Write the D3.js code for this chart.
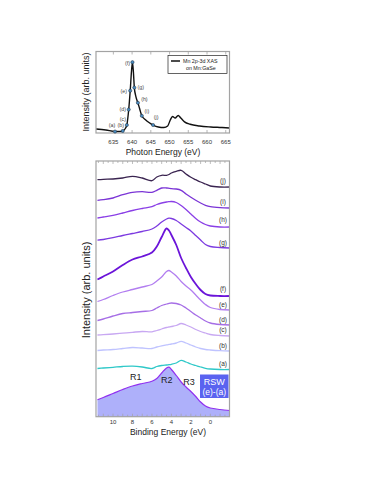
<!DOCTYPE html>
<meta charset="utf-8">
<script src="https://d3js.org/d3.v7.min.js"></script>
<style>
  body { margin: 0; background: #fff; }
  text { font-family: "Liberation Sans", Arial, sans-serif; }
</style>
<body>
<div id="my_dataviz"></div>
<script>

// ---- top panel: Mn 2p-3d XAS ----
var xasEnergy = [630.4, 633, 635.45, 636.5, 637.5, 638.2, 638.6, 639.1, 639.5, 639.85, 640.1, 640.35, 640.6, 641,
  641.55, 642, 642.6, 643.5, 644.5, 645.6, 647, 648.5, 649.5, 650.2, 650.8, 651.5, 652.3, 653, 654, 655.5, 658, 661, 664, 666];
var xasIntensity = [0.049, 0.037, 0.018, 0.018, 0.025, 0.055, 0.098, 0.288, 0.519, 0.76, 0.869, 0.75, 0.557, 0.45,
  0.371, 0.30, 0.211, 0.166, 0.129, 0.098, 0.074, 0.067, 0.086, 0.160, 0.202, 0.184, 0.215, 0.184, 0.137, 0.107, 0.086, 0.074, 0.067, 0.061];

var markerNames = ["a", "b", "c", "d", "e", "f", "g", "h", "i", "j"];
var markerEnergy = [635.45, 637.5, 638.6, 639.1, 639.5, 640.1, 640.6, 641.55, 642.6, 645.6];
var markerIntensity = [0.018, 0.025, 0.098, 0.288, 0.519, 0.869, 0.557, 0.371, 0.211, 0.098];
var photonTicks = [635, 640, 645, 650, 655, 660, 665];

// ---- bottom panel: resonant valence band spectra ----
var bindingEnergy = [11.6, 11, 10, 9, 8, 7, 6, 5.5, 5, 4.5, 4.25, 4, 3.5, 3, 2.5, 2, 1.5, 1, 0.5, 0, -1, -2];
var spectrumNames = ["j", "i", "h", "g", "f", "e", "d", "c", "b", "a"];
var spectrumColors = ["#3a2450", "#7b35d6", "#8a3fe6", "#7c3ae0", "#6b14d9", "#b27ef0", "#a66ee6", "#c8a8f2", "#bfc3ff", "#2ec8c8"];
var spectrumJ = [23.70, 23.74, 23.77, 23.87, 24.04, 23.87, 23.60, 23.97, 24.14, 24.14, 24.22, 24.37, 24.54, 24.64, 24.27, 23.94, 23.70, 23.47, 23.27, 23.07, 22.97, 22.97];
var spectrumI = [21.64, 21.70, 21.87, 22.20, 22.44, 22.50, 22.44, 22.64, 22.87, 22.87, 22.84, 22.80, 22.77, 22.64, 22.27, 21.94, 21.64, 21.37, 21.14, 21.00, 20.90, 20.87];
var spectrumH = [19.87, 19.97, 20.14, 20.37, 20.62, 20.82, 21.00, 21.22, 21.37, 21.47, 21.50, 21.52, 21.42, 21.12, 20.72, 20.27, 19.82, 19.47, 19.22, 19.07, 18.97, 18.97];
var spectrumG = [17.65, 17.72, 17.90, 18.12, 18.32, 18.52, 18.77, 19.07, 19.47, 19.77, 19.85, 19.82, 19.62, 19.27, 18.92, 18.57, 18.12, 17.67, 17.22, 17.02, 16.92, 16.87];
var spectrumF = [13.72, 14.02, 14.52, 15.17, 15.72, 16.02, 16.42, 17.02, 17.97, 18.82, 18.62, 18.17, 17.17, 15.87, 14.87, 13.97, 13.27, 12.67, 12.27, 12.12, 12.07, 12.07];
var spectrumE = [11.52, 11.72, 12.12, 12.47, 12.72, 12.97, 13.22, 13.57, 13.97, 14.52, 14.62, 14.47, 14.07, 13.52, 13.07, 12.67, 12.17, 11.67, 11.22, 10.92, 10.72, 10.67];
var spectrumD = [9.62, 9.77, 10.07, 10.32, 10.42, 10.52, 10.62, 10.87, 11.12, 11.27, 11.34, 11.37, 11.32, 11.17, 10.87, 10.52, 10.17, 9.87, 9.57, 9.37, 9.22, 9.17];
var spectrumC = [8.17, 8.20, 8.27, 8.35, 8.44, 8.52, 8.49, 8.62, 8.77, 8.92, 8.97, 9.02, 9.12, 9.32, 9.17, 8.97, 8.72, 8.52, 8.37, 8.22, 8.12, 8.07];
var spectrumB = [6.62, 6.67, 6.72, 6.82, 6.92, 6.87, 6.82, 6.97, 7.09, 7.19, 7.23, 7.27, 7.37, 7.54, 7.37, 7.17, 6.97, 6.82, 6.72, 6.67, 6.60, 6.57];
var spectrumA = [4.82, 4.87, 4.94, 5.02, 5.05, 4.97, 4.82, 5.02, 5.12, 5.17, 5.20, 5.24, 5.37, 5.64, 5.47, 5.27, 5.12, 4.97, 4.84, 4.77, 4.72, 4.72];
var spectrumRSW = [1.70, 1.92, 2.32, 2.72, 3.07, 3.32, 3.54, 3.82, 4.37, 4.87, 4.95, 4.72, 4.12, 3.47, 2.97, 2.52, 2.02, 1.47, 1.07, 0.87, 0.72, 0.62];
var bindingTicks = [10, 8, 6, 4, 2, 0];
var regionLabels = ["R1", "R2", "R3"];
var regionBE = [7.67, 4.48, 2.19];
var regionY = [3.94, 3.67, 3.50];

var allSpectra = [spectrumJ, spectrumI, spectrumH, spectrumG, spectrumF, spectrumE, spectrumD, spectrumC, spectrumB, spectrumA];

var svg = d3.select("#my_dataviz").append("svg")
  .attr("width", 374)
  .attr("height", 484);

var frameColor = "#a3a3a3";

// ===== top panel =====
var xTop = d3.scaleLinear().domain([630.37, 666.0]).range([96, 229.5]);
var yTop = d3.scaleLinear().domain([0, 1]).range([133, 51.5]);

var xasG = svg.append("g");

xasG.append("path")
  .datum(d3.zip(xasEnergy, xasIntensity))
  .attr("fill", "none")
  .attr("stroke", "#111")
  .attr("stroke-width", 1.4)
  .attr("d", d3.line()
    .x(function (d) { return xTop(d[0]); })
    .y(function (d) { return yTop(d[1]); })
    .curve(d3.curveMonotoneX));

xasG.append("rect")
  .attr("x", 96).attr("y", 51.5)
  .attr("width", 133.5).attr("height", 81.5)
  .attr("fill", "none").attr("stroke", frameColor).attr("stroke-width", 1.2);

photonTicks.forEach(function (t) {
  xasG.append("line").attr("x1", xTop(t)).attr("x2", xTop(t)).attr("y1", 133).attr("y2", 130)
    .attr("stroke", frameColor).attr("stroke-width", 0.8);
  xasG.append("line").attr("x1", xTop(t)).attr("x2", xTop(t)).attr("y1", 51.5).attr("y2", 54.5)
    .attr("stroke", frameColor).attr("stroke-width", 0.8);
  xasG.append("text").attr("x", xTop(t)).attr("y", 144)
    .attr("text-anchor", "middle").attr("font-size", 6).attr("fill", "#333").text(t);
});

// label offsets around each marker (px)
var markerOffsets = {
  a: [-3, -6], b: [-2, -5.5], c: [-4, -6], d: [-6, 0], e: [-6.5, 0],
  f: [-5, 0.5], g: [6.5, 0], h: [6.5, -3.5], i: [5, -5], j: [3, -7.5]
};

markerNames.forEach(function (m, i) {
  var cx = xTop(markerEnergy[i]), cy = yTop(markerIntensity[i]);
  xasG.append("circle").attr("cx", cx).attr("cy", cy).attr("r", 1.6)
    .attr("fill", "#4b8cc0").attr("stroke", "#1a2a3a").attr("stroke-width", 0.5);
  xasG.append("text")
    .attr("x", cx + markerOffsets[m][0]).attr("y", cy + markerOffsets[m][1])
    .attr("dy", "0.35em").attr("text-anchor", "middle")
    .attr("font-size", 5.3).attr("fill", "#444").text("(" + m + ")");
});

// legend
xasG.append("rect").attr("x", 168).attr("y", 55.5).attr("width", 59).attr("height", 18)
  .attr("fill", "#fff").attr("stroke", "#222").attr("stroke-width", 0.7);
xasG.append("line").attr("x1", 171).attr("x2", 180).attr("y1", 61).attr("y2", 61)
  .attr("stroke", "#111").attr("stroke-width", 1.5);
xasG.append("text").attr("x", 183).attr("y", 61).attr("dy", "0.35em")
  .attr("font-size", 5.3).attr("fill", "#222").text("Mn 2p-3d  XAS");
xasG.append("text").attr("x", 186).attr("y", 67.8).attr("dy", "0.35em")
  .attr("font-size", 5.3).attr("fill", "#222").text("on Mn:GaSe");

xasG.append("text").attr("x", 163).attr("y", 155)
  .attr("text-anchor", "middle").attr("font-size", 8.5).attr("fill", "#222").text("Photon Energy (eV)");
xasG.append("text")
  .attr("transform", "translate(89,92) rotate(-90)")
  .attr("text-anchor", "middle").attr("font-size", 9).attr("fill", "#222").text("Intensity (arb. units)");

// ===== bottom panel =====
var xBot = d3.scaleLinear().domain([11.75, -1.97]).range([96, 229.5]);
var yBot = d3.scaleLinear().domain([0, 25.57]).range([416.7, 161]);

var vbG = svg.append("g");

// RSW filled difference spectrum
vbG.append("path")
  .datum(d3.zip(bindingEnergy, spectrumRSW))
  .attr("fill", "#aeb0fa")
  .attr("d", d3.area()
    .x(function (d) { return xBot(d[0]); })
    .y0(yBot(0))
    .y1(function (d) { return yBot(d[1]); })
    .curve(d3.curveCatmullRom.alpha(0.5)));
vbG.append("path")
  .datum(d3.zip(bindingEnergy, spectrumRSW))
  .attr("fill", "none").attr("stroke", "#9030f0").attr("stroke-width", 1.2)
  .attr("d", d3.line()
    .x(function (d) { return xBot(d[0]); })
    .y(function (d) { return yBot(d[1]); })
    .curve(d3.curveCatmullRom.alpha(0.5)));

var specLine = d3.line()
  .x(function (d) { return xBot(d[0]); })
  .y(function (d) { return yBot(d[1]); })
  .curve(d3.curveCatmullRom.alpha(0.5));

allSpectra.forEach(function (s, i) {
  vbG.append("path")
    .datum(d3.zip(bindingEnergy, s))
    .attr("fill", "none")
    .attr("stroke", spectrumColors[i])
    .attr("stroke-width", spectrumNames[i] === "f" ? 1.8 : 1.3)
    .attr("d", specLine);
});

// curve labels sit just above the right end of each trace
var labelLift = { j: 6.5, i: 6, h: 7.3, g: 5, f: 7.5, e: 5.5, d: 5.7, c: 5.8, b: 4.8, a: 5.8 };
allSpectra.forEach(function (s, i) {
  var n = spectrumNames[i];
  vbG.append("text")
    .attr("x", 223).attr("y", yBot(s[s.length - 1]) - labelLift[n])
    .attr("dy", "0.35em").attr("text-anchor", "middle")
    .attr("font-size", 6.5).attr("fill", "#333").text("(" + n + ")");
});

regionLabels.forEach(function (r, i) {
  vbG.append("text").attr("x", xBot(regionBE[i])).attr("y", yBot(regionY[i]))
    .attr("dy", "0.35em").attr("text-anchor", "middle")
    .attr("font-size", 9).attr("fill", "#222").text(r);
});

// RSW tag
vbG.append("rect")
  .attr("x", xBot(1.06)).attr("y", yBot(4.22))
  .attr("width", xBot(-1.87) - xBot(1.06)).attr("height", yBot(1.87) - yBot(4.22))
  .attr("fill", "#5a63f0");
vbG.append("text").attr("x", (xBot(1.06) + xBot(-1.87)) / 2).attr("y", yBot(3.52))
  .attr("dy", "0.35em").attr("text-anchor", "middle")
  .attr("font-size", 9).attr("fill", "#fff").text("RSW");
vbG.append("text").attr("x", (xBot(1.06) + xBot(-1.87)) / 2).attr("y", yBot(2.47))
  .attr("dy", "0.35em").attr("text-anchor", "middle")
  .attr("font-size", 8.5).attr("fill", "#fff").text("(e)-(a)");

vbG.append("rect")
  .attr("x", 96).attr("y", 161)
  .attr("width", 133.5).attr("height", 255.7)
  .attr("fill", "none").attr("stroke", frameColor).attr("stroke-width", 1.2);

d3.range(-1.5, 11.75, 0.5).forEach(function (t) {
  var len = (t % 1 === 0) ? 3 : 2;
  vbG.append("line").attr("x1", xBot(t)).attr("x2", xBot(t)).attr("y1", 416.7).attr("y2", 416.7 - len)
    .attr("stroke", frameColor).attr("stroke-width", 0.7);
  vbG.append("line").attr("x1", xBot(t)).attr("x2", xBot(t)).attr("y1", 161).attr("y2", 161 + len)
    .attr("stroke", frameColor).attr("stroke-width", 0.7);
});
bindingTicks.forEach(function (t) {
  vbG.append("text").attr("x", xBot(t)).attr("y", 424)
    .attr("text-anchor", "middle").attr("font-size", 6).attr("fill", "#333").text(t);
});

vbG.append("text").attr("x", 168).attr("y", 435)
  .attr("text-anchor", "middle").attr("font-size", 8.5).attr("fill", "#222").text("Binding Energy (eV)");
vbG.append("text")
  .attr("transform", "translate(89.5,290) rotate(-90)")
  .attr("text-anchor", "middle").attr("font-size", 11).attr("fill", "#222").text("Intensity (arb. units)");

</script>
</body>
